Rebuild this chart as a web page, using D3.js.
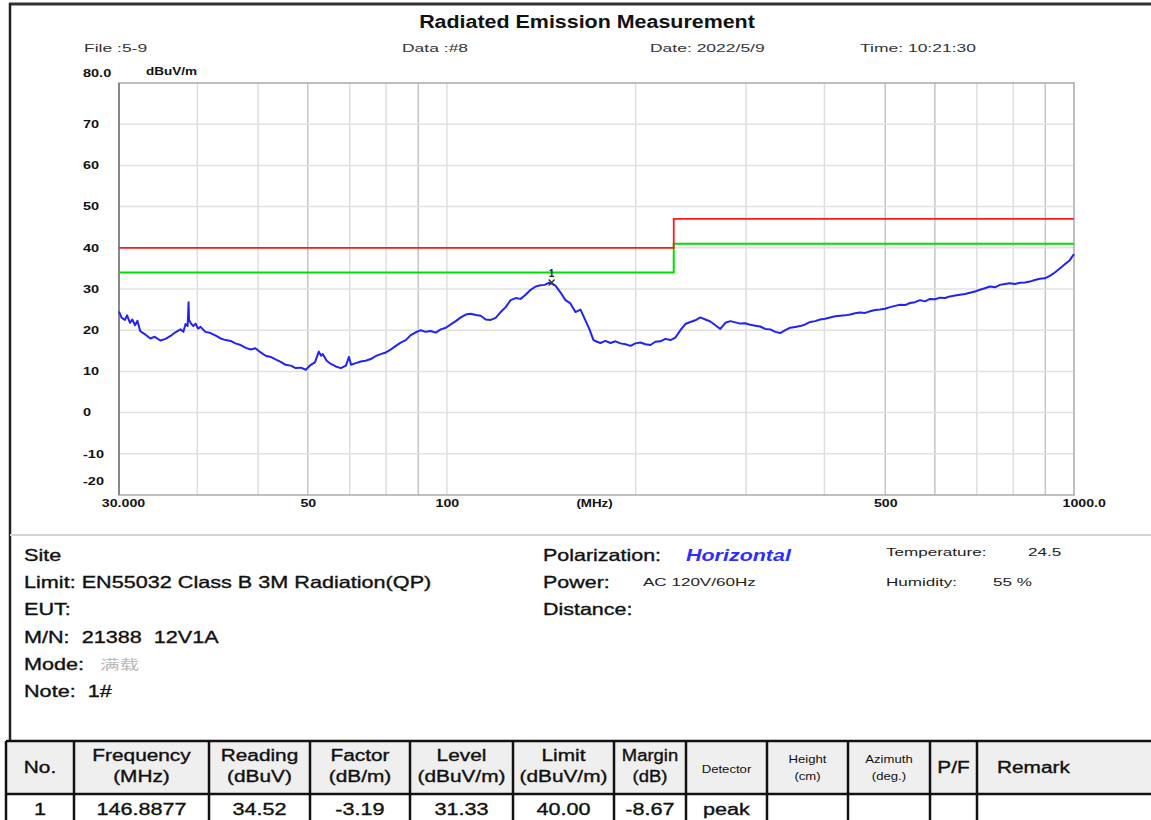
<!DOCTYPE html>
<html>
<head>
<meta charset="utf-8">
<script src="https://cdn.jsdelivr.net/npm/d3@7"></script>
<style>
body { margin: 0; background: #fff; }
svg { display: block; font-family: "Liberation Sans", Arial, sans-serif; }
.heavy { stroke: #111; stroke-width: 0.35px; }
</style>
</head>
<body>
<div id="chart"></div>
<script>
// trace (MHz, dBuV/m)
const freqMHz = [30.0, 30.3, 30.66, 30.9, 31.24, 31.5, 31.82, 32.1, 32.42, 33.0, 33.65, 34.2, 34.92, 35.6, 36.25, 36.9, 37.6, 38.0, 38.3, 38.6, 38.73, 38.8, 39.02, 39.4, 39.74, 40.1, 40.48, 41.2, 41.99, 42.8, 43.56, 44.4, 45.21, 46.0, 46.9, 47.8, 48.66, 49.5, 50.48, 51.4, 52.37, 53.3, 54.33, 55.3, 56.37, 57.4, 58.48, 59.56, 60.67, 61.6, 62.48, 63.0, 63.4, 64.3, 65.33, 66.5, 67.76, 69.02, 69.78, 70.35, 71.6, 72.89, 74.2, 75.61, 77.0, 78.43, 79.9, 81.37, 82.9, 84.4, 86.0, 87.56, 89.2, 90.84, 92.5, 94.23, 96.0, 97.77, 99.6, 101.43, 103.3, 105.22, 107.2, 109.15, 111.2, 113.23, 115.3, 117.45, 119.6, 121.84, 124.1, 126.39, 128.7, 131.11, 133.5, 136.01, 138.5, 141.09, 143.2, 145.29, 146.89, 148.99, 151.7, 154.55, 157.4, 160.33, 163.3, 166.31, 168.8, 171.28, 173.5, 175.74, 179.0, 182.3, 185.7, 189.14, 192.7, 196.2, 199.8, 203.53, 207.3, 211.13, 215.0, 219.02, 223.1, 227.19, 231.4, 235.68, 240.0, 244.48, 249.0, 253.61, 258.3, 263.08, 268.0, 272.91, 278.0, 283.1, 288.3, 293.68, 299.1, 304.64, 310.3, 316.02, 321.9, 327.82, 333.9, 340.07, 346.4, 352.77, 359.3, 365.94, 372.7, 379.61, 386.6, 393.78, 401.1, 408.49, 416.0, 423.75, 431.6, 439.57, 447.7, 455.99, 464.4, 473.02, 481.8, 490.68, 499.8, 509.01, 518.4, 528.02, 537.8, 547.73, 557.9, 568.19, 578.7, 589.41, 600.3, 611.42, 622.7, 634.25, 646.0, 657.94, 670.1, 682.51, 695.1, 707.99, 721.1, 734.43, 748.0, 761.86, 775.9, 790.31, 805.0, 819.82, 835.0, 850.43, 866.2, 882.19, 898.5, 915.13, 932.1, 949.3, 966.8, 984.75, 1000];
const levelDb = [24.5, 23.0, 22.5, 23.6, 21.8, 22.6, 21.2, 22.3, 19.8, 19.0, 18.0, 18.4, 17.5, 17.9, 18.6, 19.5, 20.2, 19.6, 21.5, 21.0, 26.8, 22.5, 21.8, 21.0, 21.6, 20.4, 20.8, 19.6, 19.3, 18.7, 18.0, 17.6, 17.4, 16.8, 16.4, 15.7, 15.3, 15.6, 14.6, 13.8, 13.5, 12.9, 12.3, 11.6, 11.4, 10.8, 10.9, 10.4, 11.6, 12.2, 14.8, 13.8, 14.2, 12.6, 11.8, 11.2, 10.8, 11.4, 13.5, 11.6, 12.0, 12.4, 12.6, 13.0, 13.7, 14.2, 14.6, 15.3, 16.2, 17.0, 17.6, 18.8, 19.5, 20.0, 19.6, 19.8, 19.4, 20.2, 20.6, 21.4, 22.2, 23.1, 23.8, 24.0, 23.7, 23.5, 22.6, 22.5, 23.0, 24.4, 25.6, 27.3, 27.8, 27.6, 28.6, 29.8, 30.6, 30.9, 31.0, 31.5, 31.33, 30.8, 29.2, 27.3, 26.5, 24.4, 25.0, 22.4, 20.2, 17.6, 17.2, 16.9, 17.4, 16.9, 17.3, 16.8, 16.6, 16.2, 16.8, 17.0, 16.6, 16.4, 17.2, 17.3, 17.9, 17.6, 18.2, 20.0, 21.5, 22.0, 22.4, 23.1, 22.6, 22.1, 21.2, 20.3, 21.8, 22.2, 21.9, 21.6, 21.7, 21.3, 21.1, 20.9, 20.3, 20.2, 19.6, 19.3, 20.0, 20.6, 20.8, 21.0, 21.4, 22.0, 22.2, 22.6, 22.8, 23.1, 23.4, 23.5, 23.6, 23.8, 24.1, 24.3, 24.2, 24.6, 24.9, 25.0, 25.2, 25.6, 25.9, 26.2, 26.1, 26.6, 26.8, 27.3, 27.0, 27.6, 27.5, 27.9, 27.8, 28.2, 28.4, 28.6, 28.8, 29.1, 29.4, 29.8, 30.2, 30.6, 30.4, 31.0, 31.2, 31.4, 31.2, 31.5, 31.6, 31.8, 32.2, 32.5, 32.6, 33.2, 34.0, 35.0, 36.0, 37.0, 38.5];

// EN55032 class B limit and the 6 dB margin line
const limitFreq = [30, 230, 230, 1000];
const limitLevel = [40, 40, 47, 47];
const marginLevel = [34, 34, 41, 41];

const peakFreq = [146.8877];
const peakLevel = [31.33];

const yTicks = [80, 70, 60, 50, 40, 30, 20, 10, 0, -10, -20];
const yTickLabels = ["80.0", "70", "60", "50", "40", "30", "20", "10", "0", "-10", "-20"];
const xTickValues = [30, 60, 100, 500, 1000];
const xTickLabels = ["30.000", "50", "100", "500", "1000.0"];
const xGrid = [40, 50, 60, 70, 80, 90, 100, 200, 300, 400, 500, 600, 700, 800, 900];

const headTop = ["No.", "Frequency", "Reading", "Factor", "Level", "Limit", "Margin", "Detector", "Height", "Azimuth", "P/F", "Remark"];
const headBottom = ["", "(MHz)", "(dBuV)", "(dB/m)", "(dBuV/m)", "(dBuV/m)", "(dB)", "", "(cm)", "(deg.)", "", ""];
const rowValues = ["1", "146.8877", "34.52", "-3.19", "31.33", "40.00", "-8.67", "peak", "", "", "", ""];

const W = 1151, H = 820;
const svg = d3.select("#chart").append("svg")
    .attr("width", W)
    .attr("height", H);

// the report text is drawn wide, so widen glyphs a bit
function stretch(sel, k) {
    sel.each(function () {
        const w = this.getComputedTextLength();
        d3.select(this).attr("textLength", w * k).attr("lengthAdjust", "spacingAndGlyphs");
    });
    return sel;
}

// page frame
svg.append("line").attr("x1", 9).attr("x2", W).attr("y1", 4).attr("y2", 4)
    .attr("stroke", "#333").attr("stroke-width", 3);
svg.append("line").attr("x1", 10).attr("x2", 10).attr("y1", 3).attr("y2", 741)
    .attr("stroke", "#222").attr("stroke-width", 2.5);
svg.append("line").attr("x1", 10).attr("x2", W).attr("y1", 535).attr("y2", 535)
    .attr("stroke", "#d4d4d4").attr("stroke-width", 2);

// header texts
stretch(svg.append("text").attr("x", 587).attr("y", 28).attr("text-anchor", "middle")
    .attr("font-size", 18).attr("font-weight", "bold").attr("fill", "#111")
    .text("Radiated Emission Measurement"), 1.19);
const info = [["File :5-9", 84], ["Data :#8", 402], ["Date: 2022/5/9", 650], ["Time: 10:21:30", 860]];
stretch(svg.selectAll(".hdr").data(info).join("text")
    .attr("class", "hdr")
    .attr("x", d => d[1]).attr("y", 52)
    .attr("font-size", 11.5).attr("fill", "#333")
    .text(d => d[0]), 1.52);

const x = d3.scaleLog().domain([30, 1000]).range([119, 1074]);
const y = d3.scaleLinear().domain([-20, 80]).range([495, 83]);

const plot = svg.append("g");

// grid
plot.selectAll(".vgrid").data(xGrid).join("line")
    .attr("class", "vgrid")
    .attr("x1", d => x(d)).attr("x2", d => x(d))
    .attr("y1", y(80)).attr("y2", y(-20))
    .attr("stroke", d => [60, 90, 500, 600, 900].includes(d) ? "#c4c4c4" : "#dedede")
    .attr("stroke-width", 1.5);
plot.selectAll(".hgrid").data(yTicks.slice(1, -1)).join("line")
    .attr("class", "hgrid")
    .attr("x1", x(30)).attr("x2", x(1000))
    .attr("y1", d => y(d)).attr("y2", d => y(d))
    .attr("stroke", "#e2e2e2").attr("stroke-width", 1.5);

// plot frame
plot.append("rect")
    .attr("x", x(30)).attr("y", y(80))
    .attr("width", x(1000) - x(30)).attr("height", y(-20) - y(80))
    .attr("fill", "none").attr("stroke", "#aaa").attr("stroke-width", 1.5);
plot.append("line").attr("x1", x(30)).attr("x2", x(30)).attr("y1", y(80)).attr("y2", y(-20))
    .attr("stroke", "#888").attr("stroke-width", 2);

// axes
const yAxis = d3.axisLeft(y).tickValues(yTicks).tickSize(0)
    .tickFormat((d, i) => yTickLabels[i]);
const yG = svg.append("g").attr("transform", `translate(${x(30)},0)`).call(yAxis);
yG.select(".domain").remove();
stretch(yG.selectAll("text")
    .attr("text-anchor", "start").attr("x", -36)
    .attr("dy", d => d === 80 ? "-0.6em" : d === -20 ? "-1.0em" : "0.32em")
    .attr("font-size", 10.5).attr("font-weight", "bold")
    .attr("font-family", "Liberation Sans, Arial, sans-serif").attr("fill", "#111"), 1.38);

const xAxis = d3.axisBottom(x).tickValues(xTickValues).tickSize(0)
    .tickFormat((d, i) => xTickLabels[i]);
const xG = svg.append("g").attr("transform", `translate(0,${y(-20)})`).call(xAxis);
xG.select(".domain").remove();
stretch(xG.selectAll("text")
    .attr("y", 5)
    .attr("text-anchor", d => d === 1000 ? "start" : "middle")
    .attr("dx", d => d === 1000 ? "-12" : d === 30 ? "4" : "0")
    .attr("font-size", 10.5).attr("font-weight", "bold")
    .attr("font-family", "Liberation Sans, Arial, sans-serif").attr("fill", "#111"), 1.35);
stretch(svg.append("text").attr("x", x(172)).attr("y", 507).attr("text-anchor", "middle")
    .attr("font-size", 10.5).attr("font-weight", "bold").attr("fill", "#111")
    .text("(MHz)"), 1.27);
stretch(svg.append("text").attr("x", 146).attr("y", 75)
    .attr("font-size", 10).attr("font-weight", "bold").attr("fill", "#111")
    .text("dBuV/m"), 1.35);

// limit lines
const limLine = d3.line().x(d => x(d[0])).y(d => y(d[1]));
plot.append("path")
    .datum(limitFreq.map((f, i) => [f, marginLevel[i]]))
    .attr("d", limLine).attr("fill", "none")
    .attr("stroke", "#00e000").attr("stroke-width", 2);
plot.append("path")
    .datum(limitFreq.map((f, i) => [f, limitLevel[i]]))
    .attr("d", limLine).attr("fill", "none")
    .attr("stroke", "#ff1a1a").attr("stroke-width", 1.8);

// measured trace
plot.append("path")
    .datum(freqMHz.map((f, i) => [f, levelDb[i]]))
    .attr("d", limLine).attr("fill", "none")
    .attr("stroke", "#2222f5").attr("stroke-width", 2)
    .attr("stroke-linejoin", "round");

// peak marker
peakFreq.forEach((f, i) => {
    const px = x(f), py = y(peakLevel[i]);
    plot.append("path")
        .attr("d", `M${px - 3},${py - 4}L${px + 3},${py + 2}M${px + 3},${py - 4}L${px - 3},${py + 2}`)
        .attr("stroke", "#333").attr("stroke-width", 1.5);
    plot.append("text").attr("x", px).attr("y", py - 7).attr("text-anchor", "middle")
        .attr("font-size", 10).attr("font-weight", "bold").attr("fill", "#222")
        .text(i + 1);
});

// info block
const leftInfo = ["Site", "Limit: EN55032 Class B 3M Radiation(QP)", "EUT:", "M/N:  21388  12V1A", "Mode:", "Note:  1#"];
stretch(svg.selectAll(".linfo").data(leftInfo).join("text")
    .attr("class", "linfo heavy")
    .attr("x", 24).attr("y", (d, i) => 561 + i * 27.2)
    .attr("font-size", 16.5).attr("fill", "#111")
    .style("white-space", "pre")
    .text(d => d), 1.31);
stretch(svg.append("text").attr("x", 100).attr("y", 669)
    .attr("font-size", 13).attr("fill", "#b8b8b8")
    .attr("font-family", "Noto Sans CJK SC, sans-serif")
    .text("满载"), 1.5);

const midInfo = ["Polarization:", "Power:", "Distance:"];
stretch(svg.selectAll(".minfo").data(midInfo).join("text")
    .attr("class", "minfo heavy")
    .attr("x", 543).attr("y", (d, i) => 561 + i * 27.2)
    .attr("font-size", 16.5).attr("fill", "#111")
    .text(d => d), 1.3);
stretch(svg.append("text").attr("x", 686).attr("y", 561)
    .attr("font-size", 16.5).attr("font-weight", "bold").attr("font-style", "italic")
    .attr("fill", "#2d2dff").text("Horizontal"), 1.3);
const sideInfo = [["AC 120V/60Hz", 643, 586], ["Temperature:", 886, 556], ["24.5", 1028, 556], ["Humidity:", 886, 586], ["55 %", 993, 586]];
stretch(svg.selectAll(".sinfo").data(sideInfo).join("text")
    .attr("class", "sinfo")
    .attr("x", d => d[1]).attr("y", d => d[2])
    .attr("font-size", 11).attr("fill", "#222")
    .style("white-space", "pre")
    .text(d => d[0]), 1.55);

// results table
const colX = [6, 74, 209, 310, 410, 513, 614, 686, 767, 848, 930, 977, 1151];
const tTop = 741, tMid = 794, tBot = 822;
const table = svg.append("g");
table.append("rect").attr("x", colX[0]).attr("y", tTop)
    .attr("width", colX[12] - colX[0]).attr("height", tMid - tTop)
    .attr("fill", "#efefef");
table.selectAll(".hline").data([tTop, tMid]).join("line")
    .attr("class", "hline")
    .attr("x1", colX[0]).attr("x2", W).attr("y1", d => d).attr("y2", d => d)
    .attr("stroke", "#111").attr("stroke-width", 2.5);
table.selectAll(".vline").data(colX.slice(0, 12)).join("line")
    .attr("class", "vline")
    .attr("x1", d => d).attr("x2", d => d).attr("y1", tTop).attr("y2", tBot)
    .attr("stroke", "#111").attr("stroke-width", 2.5);

const small = new Set(["Detector", "Height", "Azimuth"]);
headTop.forEach((h, i) => {
    const cx = (colX[i] + colX[i + 1]) / 2;
    const isSmall = small.has(h);
    const fs = isSmall ? 10.5 : 16;
    const k = isSmall ? 1.25 : h === "Margin" ? 1.15 : 1.3;
    const two = headBottom[i] !== "";
    const tx = h === "Remark" ? colX[i] + 20 : cx;
    stretch(table.append("text")
        .attr("class", isSmall ? null : "heavy")
        .attr("x", tx).attr("y", two ? tTop + (isSmall ? 22 : 20) : tTop + 32)
        .attr("text-anchor", h === "Remark" ? "start" : "middle")
        .attr("font-size", fs).attr("fill", "#111")
        .text(h), k);
    if (two) {
        stretch(table.append("text")
            .attr("class", isSmall ? null : "heavy")
            .attr("x", cx).attr("y", tTop + (isSmall ? 39 : 41))
            .attr("text-anchor", "middle")
            .attr("font-size", fs).attr("fill", "#111")
            .text(headBottom[i]), k);
    }
});
rowValues.forEach((v, i) => {
    if (!v) return;
    stretch(table.append("text")
        .attr("class", "heavy")
        .attr("x", (colX[i] + colX[i + 1]) / 2).attr("y", tMid + 21)
        .attr("text-anchor", "middle")
        .attr("font-size", 16).attr("fill", "#111")
        .text(v), 1.35);
});
</script>
</body>
</html>
